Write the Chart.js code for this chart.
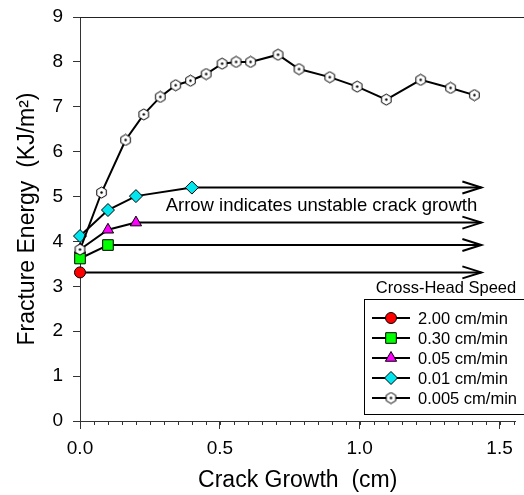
<!DOCTYPE html>
<html>
<head>
<meta charset="utf-8">
<script src="https://cdn.jsdelivr.net/npm/chart.js@4.4.1/dist/chart.umd.min.js"></script>
<style>
  html, body { margin: 0; padding: 0; background: #fff; }
  #wrap { width: 524px; height: 495px; }
</style>
</head>
<body>
<div id="wrap"><canvas id="chart" width="524" height="495"></canvas></div>
<script>
// data
const xMin = 0, xMax = 1.557, yMin = 0, yMax = 9;
const arrowEndX = 1.435;

const x200 = [0];
const y200 = [3.31];
const x030 = [0, 0.1];
const y030 = [3.62, 3.92];
const x005 = [0, 0.1, 0.2];
const y005 = [3.82, 4.26, 4.42];
const x001 = [0, 0.1, 0.2, 0.4];
const y001 = [4.12, 4.7, 5.01, 5.2];
const x0005 = [0, 0.077, 0.163, 0.228, 0.287, 0.342, 0.395, 0.451, 0.508, 0.558,
  0.61, 0.708, 0.783, 0.893, 0.991, 1.095, 1.218, 1.325, 1.41];
const y0005 = [3.82, 5.09, 6.26, 6.83, 7.22, 7.48, 7.58, 7.73, 7.96, 8.0,
  8.0, 8.16, 7.84, 7.66, 7.45, 7.16, 7.6, 7.42, 7.26];

const speedLabels = ["2.00 cm/min", "0.30 cm/min", "0.05 cm/min", "0.01 cm/min", "0.005 cm/min"];
const noteText = "Arrow indicates unstable crack growth";
const noteX = 1.42, noteY = 4.79;

const FONT = "'Liberation Sans', Arial, Helvetica, sans-serif";

// hexagon marker with a dot in the middle
function hexMarker(size) {
  const c = document.createElement("canvas");
  c.width = c.height = size;
  const g = c.getContext("2d");
  const r = size / 2 - 1;
  const cx = size / 2, cy = size / 2;
  g.beginPath();
  for (let i = 0; i < 6; i++) {
    const a = -Math.PI / 2 + (i * Math.PI) / 3;
    const px = cx + r * Math.cos(a), py = cy + r * Math.sin(a);
    i ? g.lineTo(px, py) : g.moveTo(px, py);
  }
  g.closePath();
  g.fillStyle = "#fff";
  g.fill();
  g.lineWidth = 1;
  g.strokeStyle = "#000";
  g.stroke();
  g.beginPath();
  g.arc(cx, cy, 1.2, 0, Math.PI * 2);
  g.fillStyle = "#000";
  g.fill();
  return c;
}
const hex = hexMarker(13);

const pts = (xs, ys) => xs.map((x, i) => ({ x, y: ys[i] }));

const series = [
  { label: speedLabels[0], xs: x200, ys: y200, style: "circle", radius: 5.5, color: "#ff0000", arrow: true },
  { label: speedLabels[1], xs: x030, ys: y030, style: "rect", radius: 7.5, color: "#00ff00", arrow: true },
  { label: speedLabels[2], xs: x005, ys: y005, style: "triangle", radius: 6.5, color: "#ff00ff", arrow: true },
  { label: speedLabels[3], xs: x001, ys: y001, style: "rectRot", radius: 6.5, color: "#00e5ee", arrow: true },
  { label: speedLabels[4], xs: x0005, ys: y0005, style: hex, radius: 6, color: "#fff", arrow: false },
];

const datasets = [];
// arrow shafts first (drawn below markers)
series.forEach((s) => {
  if (!s.arrow) return;
  const lastY = s.ys[s.ys.length - 1];
  datasets.push({
    label: "arrow",
    data: [{ x: s.xs[s.xs.length - 1], y: lastY }, { x: arrowEndX, y: lastY }],
    borderColor: "#000",
    borderWidth: 2,
    pointRadius: 0,
    showLine: true,
    clip: false,
    order: 10,
  });
});
series.forEach((s, i) => {
  datasets.push({
    label: s.label,
    data: pts(s.xs, s.ys),
    showLine: true,
    borderColor: "#000",
    borderWidth: 2,
    pointStyle: s.style,
    pointRadius: s.radius,
    pointBackgroundColor: s.color,
    pointBorderColor: "#000",
    pointBorderWidth: 1,
    clip: false,
    order: 5 - i,
  });
});

const extras = {
  id: "extras",
  afterDatasetsDraw(chart) {
    const { ctx, chartArea, scales } = chart;
    const xs = scales.x, ys = scales.y;
    ctx.save();

    // top frame line, runs off the right edge like the original
    ctx.strokeStyle = "#222";
    ctx.lineWidth = 1;
    ctx.beginPath();
    ctx.moveTo(chartArea.left, Math.round(chartArea.top) + 0.5);
    ctx.lineTo(chart.width, Math.round(chartArea.top) + 0.5);
    ctx.stroke();

    // minor ticks on x
    ctx.strokeStyle = "#333";
    for (let v = 0.05; v < xMax; v += 0.05) {
      const px = Math.round(xs.getPixelForValue(v)) + 0.5;
      ctx.beginPath();
      ctx.moveTo(px, chartArea.bottom);
      ctx.lineTo(px, chartArea.bottom + 4);
      ctx.stroke();
    }

    // arrow heads
    ctx.strokeStyle = "#000";
    ctx.lineWidth = 2;
    series.forEach((s) => {
      if (!s.arrow) return;
      const tx = xs.getPixelForValue(arrowEndX);
      const ty = ys.getPixelForValue(s.ys[s.ys.length - 1]);
      ctx.beginPath();
      ctx.moveTo(tx - 19, ty - 6);
      ctx.lineTo(tx, ty);
      ctx.lineTo(tx - 19, ty + 6);
      ctx.stroke();
    });

    // note text
    ctx.fillStyle = "#000";
    ctx.font = "18.5px " + FONT;
    ctx.textAlign = "right";
    ctx.textBaseline = "middle";
    ctx.fillText(noteText, xs.getPixelForValue(noteX), ys.getPixelForValue(noteY));

    // legend
    ctx.font = "16.5px " + FONT;
    ctx.textAlign = "center";
    ctx.fillText("Cross-Head Speed", 446, 288);
    ctx.fillStyle = "#fff";
    ctx.fillRect(364, 299, 165, 115);
    ctx.strokeStyle = "#000";
    ctx.lineWidth = 1;
    ctx.strokeRect(364.5, 299.5, 165, 115);
    ctx.textAlign = "left";
    series.forEach((s, i) => {
      const y = 318 + i * 20;
      ctx.strokeStyle = "#000";
      ctx.lineWidth = 2;
      ctx.beginPath();
      ctx.moveTo(372, y);
      ctx.lineTo(410, y);
      ctx.stroke();
      ctx.fillStyle = s.color;
      ctx.strokeStyle = "#000";
      ctx.lineWidth = 1;
      Chart.helpers.drawPoint(ctx, { pointStyle: s.style, radius: s.radius, borderWidth: 1, rotation: 0 }, 391, y);
      ctx.fillStyle = "#000";
      ctx.fillText(s.label, 418, y + 1);
    });
    ctx.restore();
  },
};

new Chart(document.getElementById("chart"), {
  type: "scatter",
  data: { datasets },
  options: {
    responsive: false,
    animation: false,
    layout: { padding: { top: 17, right: 0, bottom: 0, left: 0 } },
    plugins: { legend: { display: false }, tooltip: { enabled: false } },
    scales: {
      x: {
        type: "linear",
        min: xMin,
        max: xMax,
        afterFit: (s) => {
          s.height = 74;
          s.paddingLeft = 0;
          s.paddingRight = 0;
        },
        ticks: {
          stepSize: 0.5,
          includeBounds: false,
          padding: 8,
          color: "#000",
          font: { family: FONT, size: 19 },
          callback: (v) => v.toFixed(1),
        },
        grid: { drawOnChartArea: false, tickLength: 8, color: "#333" },
        border: { color: "#333", width: 1 },
        title: {
          display: true,
          text: "Crack Growth  (cm)",
          color: "#000",
          font: { family: FONT, size: 23 },
          padding: { top: 0, bottom: 1 },
        },
      },
      y: {
        min: yMin,
        max: yMax,
        afterFit: (s) => {
          s.width = 80;
          s.paddingTop = 0;
          s.paddingBottom = 0;
        },
        ticks: {
          stepSize: 1,
          padding: 10,
          color: "#000",
          font: { family: FONT, size: 19 },
        },
        grid: { drawOnChartArea: false, tickLength: 7, color: "#333" },
        border: { color: "#333", width: 1 },
        title: {
          display: true,
          text: "Fracture Energy  (KJ/m²)",
          color: "#000",
          font: { family: FONT, size: 23 },
          padding: { top: 14, bottom: 0 },
        },
      },
    },
  },
  plugins: [extras],
});
</script>
</body>
</html>
